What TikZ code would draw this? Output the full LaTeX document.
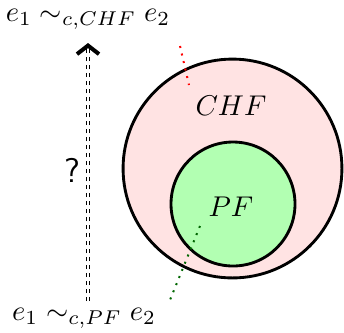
\documentclass[tikz,border=0pt]{standalone}
\usetikzlibrary{arrows.meta}
\begin{document}
\begin{tikzpicture}[x=0.35pt,y=-0.35pt,
  setcircle/.style={circle,draw=black,line width=1pt,inner sep=0pt},
  dotline/.style={dotted,line width=0.7pt},
  dashrail/.style={line width=0.45pt,dash pattern=on 1.4pt off 1.4pt},
  lbl/.style={inner sep=0pt,outer sep=0pt}]
\useasboundingbox (0,0) rectangle (344,332);
\node[setcircle,fill=red!11,minimum size=76.6pt] (chf) at (232.5,168.5) {};
\node[setcircle,fill=green!30,minimum size=43.4pt] (pf) at (233,204) {};
\node[lbl] (chfl) at (231,106) {$CHF$};
\node[lbl] (pfl) at (231,207) {$PF$};
\node[lbl] (top) at (88,19) {$e_1\sim_{c,CHF} e_2$};
\node[lbl] (bot) at (84,318) {$e_1\sim_{c,PF} e_2$};
\node[lbl,font=\sffamily\large] (q) at (72,170) {?};
\coordinate (tipend) at (88,43);
\coordinate (tailstart) at (88,301);
\coordinate (shaftend) at (88,47);
\draw[dashrail] ([xshift=-0.6pt]tailstart) -- ([xshift=-0.6pt]shaftend);
\draw[dashrail] ([xshift=0.6pt]tailstart) -- ([xshift=0.6pt]shaftend);
\draw[line width=1.4pt,-{Straight Barb[length=3pt,width=7.7pt]}] (shaftend) -- (tipend);
\coordinate (r1) at (180,46);
\coordinate (r2) at (189,85);
\draw[dotline,red] (r1) -- (r2);
\coordinate (g1) at (200,226);
\coordinate (g2) at (170,300);
\draw[dotline,green!40!black] (g1) -- (g2);
\end{tikzpicture}
\end{document}
